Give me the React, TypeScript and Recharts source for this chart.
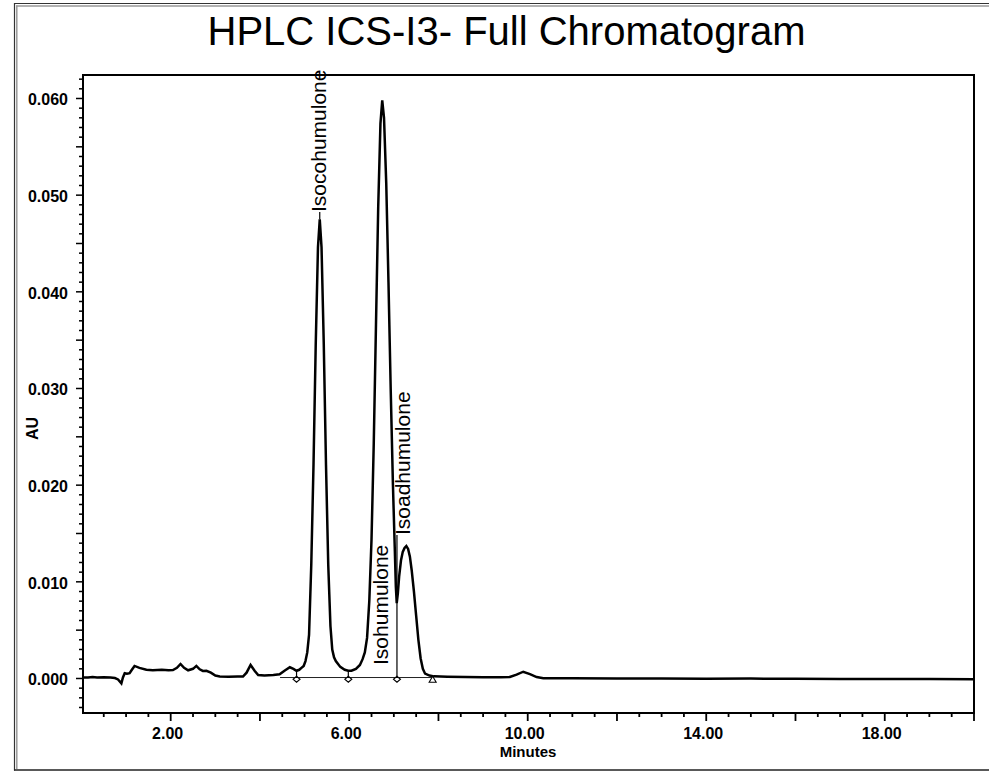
import React from 'react';
import { LineChart, Line, XAxis, YAxis, ReferenceLine, ReferenceDot, ReferenceArea } from 'recharts';

const FONT = "'Liberation Sans', Arial, Helvetica, sans-serif";

// Retention time (minutes)
const times = [
  0.04, 0.15, 0.25, 0.35, 0.5, 0.65, 0.75, 0.82, 0.895, 0.93, 0.97, 1.02, 1.08, 1.13, 1.19, 1.3, 1.455, 1.6, 1.8, 1.95,
  2.05, 2.14, 2.22, 2.3, 2.39, 2.5, 2.575, 2.65, 2.72, 2.8, 2.9, 3.0, 3.1, 3.3, 3.5, 3.62, 3.7, 3.79, 3.88, 3.96,
  4.1, 4.3, 4.44, 4.55, 4.67, 4.75, 4.82, 4.88, 4.93, 4.98, 5.02, 5.06, 5.1, 5.15, 5.2, 5.25, 5.3, 5.34, 5.38, 5.43,
  5.48, 5.53, 5.58, 5.62, 5.66, 5.7, 5.75, 5.8, 5.9, 5.98, 6.05, 6.15, 6.24, 6.3, 6.35, 6.4, 6.45, 6.5, 6.55, 6.6,
  6.65, 6.7, 6.74, 6.78, 6.83, 6.88, 6.93, 6.98, 7.02, 7.045, 7.065, 7.09, 7.12, 7.16, 7.2, 7.24, 7.28, 7.32, 7.36, 7.4,
  7.45, 7.5, 7.55, 7.6, 7.65, 7.7, 7.8, 7.9, 8.2, 8.6, 9.0, 9.4, 9.6, 9.75, 9.9, 10.05, 10.2, 10.35, 11, 12,
  13, 14, 15, 16, 17, 18, 19, 20,
];

// Absorbance (AU)
const absorbance = [
  0.0001, 0.0001, 0.00015, 0.0001, 0.00012, 0.0001, 0.00005, -0.0001, -0.0005, 0.0001, 0.00055, 0.0005, 0.00055, 0.0009, 0.0013, 0.0011, 0.0009, 0.00085, 0.0009, 0.00085,
  0.00088, 0.0011, 0.0015, 0.0011, 0.00085, 0.001, 0.0013, 0.00095, 0.00078, 0.0008, 0.0006, 0.0003, 0.0002, 0.00018, 0.0002, 0.0002, 0.0006, 0.0014, 0.0008, 0.00036,
  0.0003, 0.00035, 0.00043, 0.0008, 0.00116, 0.001, 0.0008, 0.0009, 0.0011, 0.0013, 0.0018, 0.0027, 0.0045, 0.0118, 0.0221, 0.0346, 0.0446, 0.0475, 0.0446, 0.0346,
  0.0221, 0.0118, 0.0054, 0.003, 0.0022, 0.0018, 0.0015, 0.0012, 0.0009, 0.0008, 0.0008, 0.001, 0.0014, 0.002, 0.0027, 0.0042, 0.008, 0.0144, 0.0243, 0.0366,
  0.0488, 0.0574, 0.0598, 0.058, 0.0512, 0.041, 0.0299, 0.02, 0.0136, 0.0095, 0.0078, 0.0088, 0.0106, 0.0122, 0.0131, 0.0135, 0.0137, 0.0134, 0.0126, 0.0112,
  0.009, 0.0065, 0.004, 0.0021, 0.001, 0.0005, 0.0003, 0.00022, 0.00018, 0.00015, 0.00013, 0.00012, 0.00015, 0.0004, 0.0007, 0.00045, 0.00015, 0.00002, 0.00003, 0.0,
  0.00001, -0.00002, -0.00001, -0.00003, -0.00004, -0.00005, -0.00006, -0.00007,
];

const xTicks = [
  0.5, 1, 1.5, 2, 2.5, 3, 3.5, 4, 4.5, 5, 5.5, 6, 6.5, 7, 7.5, 8, 8.5, 9, 9.5, 10,
  10.5, 11, 11.5, 12, 12.5, 13, 13.5, 14, 14.5, 15, 15.5, 16, 16.5, 17, 17.5, 18, 18.5, 19, 19.5, 20,
];
const xTickLabels = [2, 6, 10, 14, 18];

const yTicks = [
  -0.003, -0.002, -0.001, 0.0, 0.001, 0.002, 0.003, 0.004, 0.005, 0.006, 0.007, 0.008, 0.009, 0.01,
  0.011, 0.012, 0.013, 0.014, 0.015, 0.016, 0.017, 0.018, 0.019, 0.02, 0.021, 0.022, 0.023, 0.024, 0.025,
  0.026, 0.027, 0.028, 0.029, 0.03, 0.031, 0.032, 0.033, 0.034, 0.035, 0.036, 0.037, 0.038, 0.039, 0.04,
  0.041, 0.042, 0.043, 0.044, 0.045, 0.046, 0.047, 0.048, 0.049, 0.05, 0.051, 0.052, 0.053, 0.054, 0.055,
  0.056, 0.057, 0.058, 0.059, 0.06, 0.061, 0.062,
];
const yTickLabels = [0.0, 0.01, 0.02, 0.03, 0.04, 0.05, 0.06];

const xDomain = [0.035, 20];
const yDomain = [-0.00357, 0.06243];

// Peak name labels (start of rotated text)
const peakNames = ['Isocohumulone', 'Isohumulone', 'Isoadhumulone'];
const peakLabelTimes = [5.34, 6.73, 7.07];
const peakLabelValues = [0.04826, 0.0014, 0.01484];
const peakLabelOffsets = [6, 6, 13];

// Integration marks
const markTimes = [4.82, 5.98, 7.07, 7.87];
const markShapes = ['diamond', 'diamond', 'diamond', 'triangle'];
const dropTopValues = [0.0008, 0.0008, 0.01484, 0.0002];
const baselineStart = 4.45;
const baselineEnd = 7.87;
const baselineValue = 0.0001;
const markValue = -0.00008;
const leaderPeakValue = 0.0475;

const data = times.map((t, i) => ({ t, v: absorbance[i] }));

const near = (a: number, b: number) => Math.abs(a - b) < 1e-6;

const XTick = (props: any) => {
  const { x, y, payload } = props;
  const v = payload.value;
  const k = Math.round(v * 2);
  const len = k % 4 === 0 ? 8 : 4;
  const labeled = xTickLabels.some((l) => near(l, v));
  return (
    <g>
      <line x1={x} y1={y} x2={x} y2={y + len} stroke="#000" strokeWidth={1.8} />
      {labeled && (
        <text x={x - 3} y={y + 26} textAnchor="middle" fontFamily={FONT} fontWeight="bold" fontSize={16} fill="#000">
          {v.toFixed(2)}
        </text>
      )}
    </g>
  );
};

const YTick = (props: any) => {
  const { x, y, payload } = props;
  const v = payload.value;
  const k = Math.round(v * 1000);
  const len = k % 5 === 0 ? 7 : 4;
  const labeled = yTickLabels.some((l) => near(l, v));
  return (
    <g>
      <line x1={x - len} y1={y} x2={x} y2={y} stroke="#000" strokeWidth={1.5} />
      {labeled && (
        <text x={x - 15} y={y + 7} textAnchor="end" fontFamily={FONT} fontWeight="bold" fontSize={16} fill="#000">
          {v.toFixed(3)}
        </text>
      )}
    </g>
  );
};

const makeLabelShape = (name: string, dx: number) => (props: any) => {
  const { cx, cy } = props;
  const x = cx + dx;
  return (
    <text
      x={x}
      y={cy}
      transform={`rotate(-90 ${x} ${cy})`}
      textAnchor="start"
      fontFamily={FONT}
      fontSize={21}
      fill="#000"
    >
      {name}
    </text>
  );
};

const makeMarkShape = (kind: string) => (props: any) => {
  const { cx, cy } = props;
  if (kind === 'triangle') {
    return (
      <polygon
        points={`${cx},${cy - 3} ${cx + 3.5},${cy + 3} ${cx - 3.5},${cy + 3}`}
        fill="#fff"
        stroke="#000"
        strokeWidth={1.1}
      />
    );
  }
  return (
    <polygon
      points={`${cx},${cy - 3} ${cx + 3.5},${cy} ${cx},${cy + 3} ${cx - 3.5},${cy}`}
      fill="#fff"
      stroke="#000"
      strokeWidth={1.1}
    />
  );
};

export default function App() {
  return (
    <div style={{ position: 'absolute', left: 0, top: 0, width: 989, height: 771, background: '#fff' }}>
      <LineChart
        width={989}
        height={771}
        data={data}
        margin={{ top: 75, right: 15, bottom: 18, left: 23 }}
      >
        <XAxis
          type="number"
          dataKey="t"
          domain={xDomain}
          allowDataOverflow
          ticks={xTicks}
          interval={0}
          tickSize={0}
          tickMargin={0}
          tickLine={false}
          tick={<XTick />}
          axisLine={{ stroke: '#000', strokeWidth: 2 }}
          height={40}
        />
        <YAxis
          type="number"
          domain={yDomain}
          allowDataOverflow
          ticks={yTicks}
          interval={0}
          tickSize={0}
          tickMargin={0}
          tickLine={false}
          tick={<YTick />}
          axisLine={{ stroke: '#000', strokeWidth: 2 }}
          width={60}
        />
        <ReferenceArea
          x1={xDomain[0]}
          x2={xDomain[1]}
          y1={yDomain[0]}
          y2={yDomain[1]}
          fill="none"
          fillOpacity={0}
          stroke="#000"
          strokeWidth={2}
        />
        <ReferenceLine
          segment={[{ x: baselineStart, y: baselineValue }, { x: baselineEnd, y: baselineValue }]}
          stroke="#222"
          strokeWidth={1}
        />
        {markTimes.map((t, i) => (
          <ReferenceLine
            key={`drop-${i}`}
            segment={[{ x: t, y: baselineValue }, { x: t, y: dropTopValues[i] }]}
            stroke="#000"
            strokeWidth={1.2}
          />
        ))}
        <ReferenceLine
          segment={[{ x: peakLabelTimes[0], y: leaderPeakValue }, { x: peakLabelTimes[0], y: peakLabelValues[0] }]}
          stroke="#000"
          strokeWidth={1.2}
        />
        <Line
          type="linear"
          dataKey="v"
          stroke="#000"
          strokeWidth={2.5}
          dot={false}
          activeDot={false}
          isAnimationActive={false}
        />
        {markTimes.map((t, i) => (
          <ReferenceDot key={`mark-${i}`} x={t} y={markValue} r={3} shape={makeMarkShape(markShapes[i])} />
        ))}
        {peakNames.map((name, i) => (
          <ReferenceDot
            key={`lbl-${i}`}
            x={peakLabelTimes[i]}
            y={peakLabelValues[i]}
            r={1}
            ifOverflow="visible"
            shape={makeLabelShape(name, peakLabelOffsets[i])}
          />
        ))}
      </LineChart>
      <svg
        width={989}
        height={771}
        style={{ position: 'absolute', left: 0, top: 0, pointerEvents: 'none' }}
      >
        <line x1={14.5} y1={3} x2={14.5} y2={770.5} stroke="#333" strokeWidth={1.2} />
        <line x1={16.8} y1={5.5} x2={16.8} y2={769} stroke="#999" strokeWidth={1.5} />
        <line x1={14} y1={3.5} x2={989} y2={3.5} stroke="#333" strokeWidth={1.2} />
        <line x1={16} y1={6} x2={989} y2={6} stroke="#999" strokeWidth={1.5} />
        <line x1={14} y1={770} x2={989} y2={770} stroke="#222" strokeWidth={1.5} />
        <text x={506.5} y={45} textAnchor="middle" fontFamily={FONT} fontSize={40} fill="#000">
          HPLC ICS-I3- Full Chromatogram
        </text>
        <text
          x={37.5}
          y={428.5}
          transform="rotate(-90 37.5 428.5)"
          textAnchor="middle"
          fontFamily={FONT}
          fontWeight="bold"
          fontSize={16}
          fill="#000"
        >
          AU
        </text>
        <text x={528} y={757} textAnchor="middle" fontFamily={FONT} fontWeight="bold" fontSize={15} fill="#000">
          Minutes
        </text>
      </svg>
    </div>
  );
}
